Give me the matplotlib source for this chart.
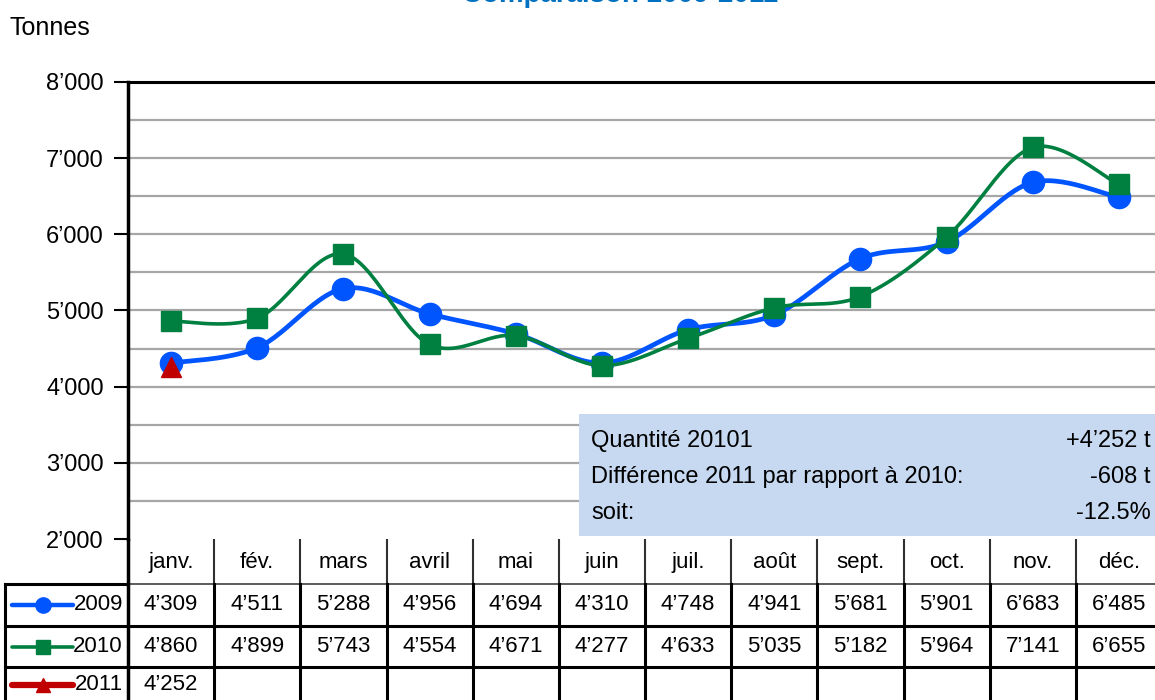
import numpy as np
import matplotlib
matplotlib.use("Agg")
import matplotlib.pyplot as plt
from matplotlib.patches import Rectangle

plt.rcParams['font.family'] = ['Liberation Sans', 'DejaVu Sans']

# ---- data ----
months = ["janv.", "fév.", "mars", "avril", "mai", "juin", "juil.", "août",
          "sept.", "oct.", "nov.", "déc."]
v2009 = [4309, 4511, 5288, 4956, 4694, 4310, 4748, 4941, 5681, 5901, 6683, 6485]
v2010 = [4860, 4899, 5743, 4554, 4671, 4277, 4633, 5035, 5182, 5964, 7141, 6655]
v2011 = [4252]
series_names = ["2009", "2010", "2011"]
yticks = [2000, 3000, 4000, 5000, 6000, 7000, 8000]
title = "Comparaison 2009-2011"
ylabel = "Tonnes"
box_left = ["Quantité 20101", "Différence 2011 par rapport à 2010:", "soit:"]
box_right = ["+4’252 t", "-608 t", "-12.5%"]

C09, C10, C11 = "#0055FF", "#008040", "#C00000"

W, H = 1155, 700
fig = plt.figure(figsize=(W / 100, H / 100), dpi=100)

left_px, right_px, top_px, bot_px = 128, 1162, 82, 539
colw = (right_px - left_px) / 12

ax = fig.add_axes([left_px / W, (H - bot_px) / H, (right_px - left_px) / W, (bot_px - top_px) / H])
ax.set_xlim(-0.5, 11.5)
ax.set_ylim(2000, 8000)
for y in np.arange(2500, 8000, 500):
    ax.axhline(y, color="#A6A6A6", lw=1.6, zorder=1)
ax.spines['right'].set_visible(False)
ax.spines['bottom'].set_visible(False)
ax.spines['top'].set_linewidth(2.2)
ax.spines['left'].set_linewidth(2.5)
ax.set_xticks([])
ax.set_yticks(yticks)
ax.set_yticklabels([f"{v // 1000}’{v % 1000:03d}" for v in yticks], fontsize=17)
ax.tick_params(axis='y', length=10, width=1.5, pad=7.5, direction='out')


def smooth(vals):
    """Excel-like smoothed line (Catmull-Rom Bezier) through the points."""
    n = len(vals)
    sx, sy = colw, 457 / 6000
    P = np.column_stack([np.arange(n) * sx, np.array(vals, float) * sy])
    xs, ys = [], []
    t = np.linspace(0, 1, 30)
    for i in range(n - 1):
        p0 = P[max(i - 1, 0)]
        p1, p2 = P[i], P[i + 1]
        p3 = P[min(i + 2, n - 1)]
        c1 = p1 + (p2 - p0) / 6
        c2 = p2 - (p3 - p1) / 6
        b = ((1 - t) ** 3)[:, None] * p1 + (3 * (1 - t) ** 2 * t)[:, None] * c1 \
            + (3 * (1 - t) * t ** 2)[:, None] * c2 + (t ** 3)[:, None] * p2
        xs.append(b[:, 0]); ys.append(b[:, 1])
    xs = np.concatenate(xs) / sx
    ys = np.concatenate(ys) / sy
    return xs, ys


x = np.arange(12)
sx09, sy09 = smooth(v2009)
ax.plot(sx09, sy09, color=C09, lw=3.4, zorder=3, solid_capstyle='round')
ax.plot(x, v2009, 'o', color=C09, ms=16, zorder=4)
sx10, sy10 = smooth(v2010)
ax.plot(sx10, sy10, color=C10, lw=2.6, zorder=5, solid_capstyle='round')
ax.plot(x, v2010, 's', color=C10, ms=15, zorder=6)
ax.plot(np.arange(len(v2011)), v2011, '^', color=C11, ms=15, zorder=7)

# annotation box
bx0, by0, by1 = 579, 414, 536
fig.patches.append(Rectangle((bx0 / W, (H - by1) / H), (W - bx0 + 10) / W, (by1 - by0) / H,
                             transform=fig.transFigure, facecolor="#C6D9F1", edgecolor="none", zorder=2))
for i, (l, r) in enumerate(zip(box_left, box_right)):
    yy = 1 - (441 + 36 * i) / H
    fig.text(591 / W, yy, l, fontsize=17, va='center', ha='left', zorder=3)
    fig.text(1151 / W, yy, r, fontsize=17, va='center', ha='right', zorder=3)

# title (partially cut at top, as in the reference) and y label
fig.text(620 / W, 1 - 1.5 / H, title, fontsize=20, fontweight='bold', color="#0070C0",
         ha='center', va='baseline')
fig.text(10 / W, 1 - 28 / H, ylabel, fontsize=18, ha='left', va='center')

# data table
tax = fig.add_axes([0, -10 / H, 1, 171 / H])
x0 = -0.5 - left_px / colw
tax.set_xlim(x0, x0 + W / colw)
tax.set_ylim(171, 0)
tax.axis('off')
rows = [0, 45, 87, 128, 171]
legx = -0.5 - (left_px - 5) / colw
# horizontal lines
tax.plot([-0.5, 11.5], [rows[1]] * 2, color="#404040", lw=1.2, clip_on=False)
tax.plot([legx, -0.5], [rows[1]] * 2, color="black", lw=2.2, clip_on=False)
for r in rows[2:4]:
    tax.plot([legx, 11.5], [r, r], color="black", lw=2.2, clip_on=False)
# vertical lines
tax.plot([legx, legx], [rows[1], rows[4]], color="black", lw=2.2)
tax.plot([-0.5, -0.5], [rows[0], rows[4]], color="black", lw=2.5)
for k in range(1, 13):
    xv = -0.5 + k
    tax.plot([xv, xv], [rows[0], rows[1]], color="#303030", lw=1.5)
    tax.plot([xv, xv], [rows[1], rows[4]], color="black", lw=2.2)


def fmt(v):
    return f"{v // 1000}’{v % 1000:03d}"


for i, m in enumerate(months):
    tax.text(i, (rows[0] + rows[1]) / 2 + 1, m, fontsize=16, ha='center', va='center')
for vals, r in ((v2009, 1), (v2010, 2), (v2011, 3)):
    yc = (rows[r] + rows[r + 1]) / 2 - (4 if r == 3 else 0)
    for i, v in enumerate(vals):
        tax.text(i, yc, fmt(v), fontsize=16, ha='center', va='center')

# legend keys in table
lx0 = -0.5 - (left_px - 12) / colw
lx1 = -0.5 - (left_px - 73) / colw
lxm = (lx0 + lx1) / 2
for (name, col, mk, lw, ms), r in zip(
        ((series_names[0], C09, 'o', 3.2, 11), (series_names[1], C10, 's', 2.6, 10),
         (series_names[2], C11, '^', 4.5, 10)), (1, 2, 3)):
    yc = (rows[r] + rows[r + 1]) / 2 - (4 if r == 3 else 0)
    tax.plot([lx0, lx1], [yc, yc], color=col, lw=lw, solid_capstyle='round')
    tax.plot([lxm], [yc], mk, color=col, ms=ms)
    tax.text(-0.5 - 5 / colw, yc, name, fontsize=16, ha='right', va='center')

fig.savefig("out.png", dpi=100)
